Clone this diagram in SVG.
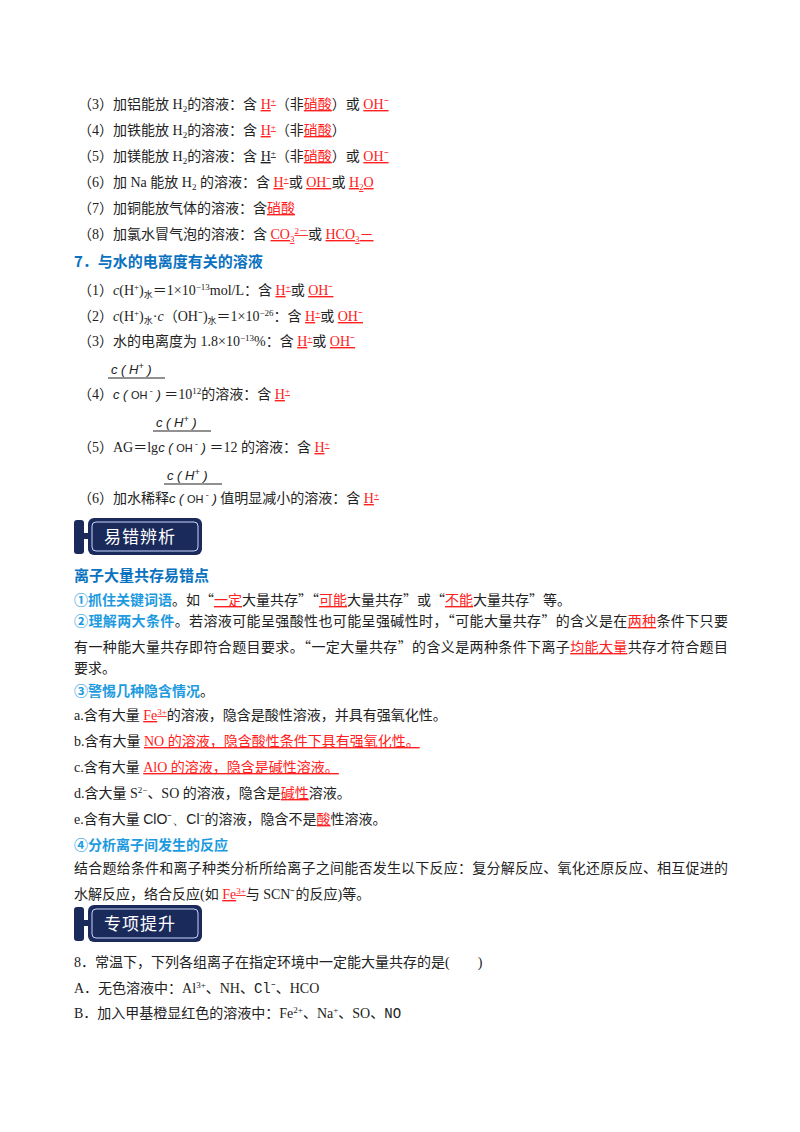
<svg xmlns="http://www.w3.org/2000/svg" width="800" height="1132" viewBox="0 0 800 1132">
<style>
text{font-family:"Liberation Serif","Noto Sans CJK SC",serif;font-size:14px;fill:#222}
.r{fill:#ff2020;text-decoration:underline}
.h{font-family:"Noto Sans CJK SC","Liberation Sans",sans-serif;font-weight:bold;fill:#0a72c0;font-size:15px}
.b{font-family:"Noto Sans CJK SC",sans-serif;font-weight:bold;fill:#1e9be0}
.s{font-size:9px}
.q{font-family:"Noto Sans CJK SC",sans-serif}
.f{font-family:"Liberation Sans",sans-serif;font-style:italic;font-size:13px}
.fo{font-family:"Liberation Sans",sans-serif;font-size:11px}
.ban{font-family:"Noto Sans CJK SC",sans-serif;font-size:17px;fill:#fff;letter-spacing:1px}
</style>
<rect width="800" height="1132" fill="#fff"/>
<g id="list1">
<text x="78" y="109">（3）加铝能放 H<tspan class="s" dy="3">2</tspan><tspan dy="-3">的溶液：含 </tspan><tspan class="r">H<tspan class="s" dy="-5">+</tspan></tspan><tspan dy="5">（非</tspan><tspan class="r">硝酸</tspan>）或 <tspan class="r">OH⁻</tspan></text>
<text x="78" y="135">（4）加铁能放 H<tspan class="s" dy="3">2</tspan><tspan dy="-3">的溶液：含 </tspan><tspan class="r">H<tspan class="s" dy="-5">+</tspan></tspan><tspan dy="5">（非</tspan><tspan class="r">硝酸</tspan>）</text>
<text x="78" y="161">（5）加镁能放 H<tspan class="s" dy="3">2</tspan><tspan dy="-3">的溶液：含 </tspan><tspan style="text-decoration:underline">H<tspan class="s" dy="-5">+</tspan></tspan><tspan dy="5">（非</tspan><tspan class="r">硝酸</tspan>）或 <tspan class="r">OH⁻</tspan></text>
<text x="78" y="187">（6）加 Na 能放 H<tspan class="s" dy="3">2</tspan><tspan dy="-3"> 的溶液：含 </tspan><tspan class="r">H<tspan class="s" dy="-5">+</tspan></tspan><tspan dy="5">或 </tspan><tspan class="r">OH⁻</tspan>或 <tspan class="r">H<tspan class="s" dy="3">2</tspan><tspan dy="-3">O</tspan></tspan></text>
<text x="78" y="213">（7）加铜能放气体的溶液：含<tspan class="r">硝酸</tspan></text>
<text x="78" y="239">（8）加氯水冒气泡的溶液：含 <tspan class="r">CO<tspan class="s" dy="3">3</tspan><tspan class="s" dy="-8">2－</tspan></tspan><tspan dy="5">或 </tspan><tspan class="r">HCO<tspan class="s" dy="3">3</tspan><tspan dy="-3">－</tspan></tspan></text>
</g>
<g id="sec7">
<text class="h" x="74" y="267">7．与水的电离度有关的溶液</text>
<text x="78" y="295">（1）<tspan font-style="italic">c</tspan>(H<tspan class="s" dy="-5">+</tspan><tspan dy="5">)</tspan><tspan class="s" dy="3">水</tspan><tspan dy="-3">＝1×10</tspan><tspan class="s" dy="-5">−13</tspan><tspan dy="5">mol/L：含 </tspan><tspan class="r">H<tspan class="s" dy="-5">+</tspan></tspan><tspan dy="5">或 </tspan><tspan class="r">OH⁻</tspan></text>
<text x="78" y="321">（2）<tspan font-style="italic">c</tspan>(H<tspan class="s" dy="-5">+</tspan><tspan dy="5">)</tspan><tspan class="s" dy="3">水</tspan><tspan dy="-3">·</tspan><tspan font-style="italic">c</tspan>（OH⁻)<tspan class="s" dy="3">水</tspan><tspan dy="-3">＝1×10</tspan><tspan class="s" dy="-5">−26</tspan><tspan dy="5">：含 </tspan><tspan class="r">H<tspan class="s" dy="-5">+</tspan></tspan><tspan dy="5">或 </tspan><tspan class="r">OH⁻</tspan></text>
<text x="78" y="346">（3）水的电离度为 1.8×10<tspan class="s" dy="-5">−13</tspan><tspan dy="5">%：含 </tspan><tspan class="r">H<tspan class="s" dy="-5">+</tspan></tspan><tspan dy="5">或 </tspan><tspan class="r">OH⁻</tspan></text>
<text class="f" x="111" y="374">c ( H<tspan class="s" dy="-5">+</tspan><tspan dy="5"> )</tspan></text>
<line x1="108" y1="378" x2="165" y2="378" stroke="#222"/>
<text x="78" y="399">（4）<tspan class="f">c ( </tspan><tspan class="fo">OH</tspan><tspan class="s" dy="-5"> -</tspan><tspan class="f" dy="5"> )</tspan> ＝10<tspan class="s" dy="-5">12</tspan><tspan dy="5">的溶液：含 </tspan><tspan class="r">H<tspan class="s" dy="-5">+</tspan></tspan></text>
<text class="f" x="156" y="427">c ( H<tspan class="s" dy="-5">+</tspan><tspan dy="5"> )</tspan></text>
<line x1="153" y1="431" x2="211" y2="431" stroke="#222"/>
<text x="78" y="452">（5）AG＝lg<tspan class="f">c ( </tspan><tspan class="fo">OH</tspan><tspan class="s" dy="-5"> -</tspan><tspan class="f" dy="5"> )</tspan> ＝12 的溶液：含 <tspan class="r">H<tspan class="s" dy="-5">+</tspan></tspan></text>
<text class="f" x="167" y="480">c ( H<tspan class="s" dy="-5">+</tspan><tspan dy="5"> )</tspan></text>
<line x1="164" y1="484" x2="222" y2="484" stroke="#222"/>
<text x="78" y="503">（6）加水稀释<tspan class="f">c ( </tspan><tspan class="fo">OH</tspan><tspan class="s" dy="-5"> -</tspan><tspan class="f" dy="5"> )</tspan> 值明显减小的溶液：含 <tspan class="r">H<tspan class="s" dy="-5">+</tspan></tspan></text>
</g>
<g id="banner1">
<rect x="74" y="520" width="10" height="34" rx="3" fill="#1a2a5a"/>
<rect x="80" y="533" width="10" height="6" fill="#1a2a5a"/>
<rect x="88" y="518" width="114" height="37" rx="6" fill="#1a2a5a"/>
<rect x="92" y="522" width="106" height="29" rx="4" fill="none" stroke="#c8d4ff" stroke-width="1"/>
<text class="ban" x="104" y="543">易错辨析</text>
</g>
<g id="body">
<text class="h" x="74" y="581">离子大量共存易错点</text>
<text x="74" y="605"><tspan class="b">①抓住关键词语</tspan>。如<tspan class="q">“</tspan><tspan class="r">一定</tspan>大量共存<tspan class="q">”“</tspan><tspan class="r">可能</tspan>大量共存<tspan class="q">”</tspan>或<tspan class="q">“</tspan><tspan class="r">不能</tspan>大量共存<tspan class="q">”</tspan>等。</text>
<text x="74" y="626" textLength="654" lengthAdjust="spacing"><tspan class="b">②理解两大条件</tspan>。若溶液可能呈强酸性也可能呈强碱性时，<tspan class="q">“</tspan>可能大量共存<tspan class="q">”</tspan>的含义是在<tspan class="r">两种</tspan>条件下只要</text>
<text x="74" y="652" textLength="654" lengthAdjust="spacing">有一种能大量共存即符合题目要求。<tspan class="q">“</tspan>一定大量共存<tspan class="q">”</tspan>的含义是两种条件下离子<tspan class="r">均能大量</tspan>共存才符合题目</text>
<text x="74" y="673">要求。</text>
<text x="74" y="696"><tspan class="b">③警惕几种隐含情况</tspan>。</text>
<text x="74" y="720">a.含有大量 <tspan class="r">Fe<tspan class="s" dy="-5">3+</tspan></tspan><tspan dy="5">的溶液，隐含是酸性溶液，并具有强氧化性。</tspan></text>
<text x="74" y="746">b.含有大量 <tspan class="r">NO 的溶液，隐含酸性条件下具有强氧化性。</tspan></text>
<text x="74" y="772">c.含有大量 <tspan class="r">AlO 的溶液，隐含是碱性溶液。</tspan></text>
<text x="74" y="798">d.含大量 S<tspan class="s" dy="-5">2−</tspan><tspan dy="5">、SO 的溶液，隐含是</tspan><tspan class="r">碱性</tspan>溶液。</text>
<text x="74" y="824">e.含有大量 <tspan font-family="Liberation Sans">ClO⁻、Cl⁻</tspan>的溶液，隐含不是<tspan class="r">酸</tspan>性溶液。</text>
<text x="74" y="850" class="b">④分析离子间发生的反应</text>
<text x="74" y="873" textLength="654" lengthAdjust="spacing">结合题给条件和离子种类分析所给离子之间能否发生以下反应：复分解反应、氧化还原反应、相互促进的</text>
<text x="74" y="899">水解反应，络合反应(如 <tspan class="r">Fe<tspan class="s" dy="-5">3+</tspan></tspan><tspan dy="5">与 SCN⁻的反应)等。</tspan></text>
</g>
<g id="banner2">
<rect x="74" y="907" width="10" height="34" rx="3" fill="#1a2a5a"/>
<rect x="80" y="920" width="10" height="6" fill="#1a2a5a"/>
<rect x="88" y="905" width="114" height="37" rx="6" fill="#1a2a5a"/>
<rect x="92" y="909" width="106" height="29" rx="4" fill="none" stroke="#c8d4ff" stroke-width="1"/>
<text class="ban" x="104" y="930">专项提升</text>
</g>
<g id="q8">
<text x="74" y="967">8．常温下，下列各组离子在指定环境中一定能大量共存的是(　　)</text>
<text x="74" y="993">A．无色溶液中：Al<tspan class="s" dy="-5">3+</tspan><tspan dy="5">、NH、</tspan><tspan font-family="Liberation Mono">Cl⁻</tspan>、HCO</text>
<text x="74" y="1018">B．加入甲基橙显红色的溶液中：Fe<tspan class="s" dy="-5">2+</tspan><tspan dy="5">、Na</tspan><tspan class="s" dy="-5">+</tspan><tspan dy="5">、SO、</tspan><tspan font-family="Liberation Mono">NO</tspan></text>
</g>
</svg>
